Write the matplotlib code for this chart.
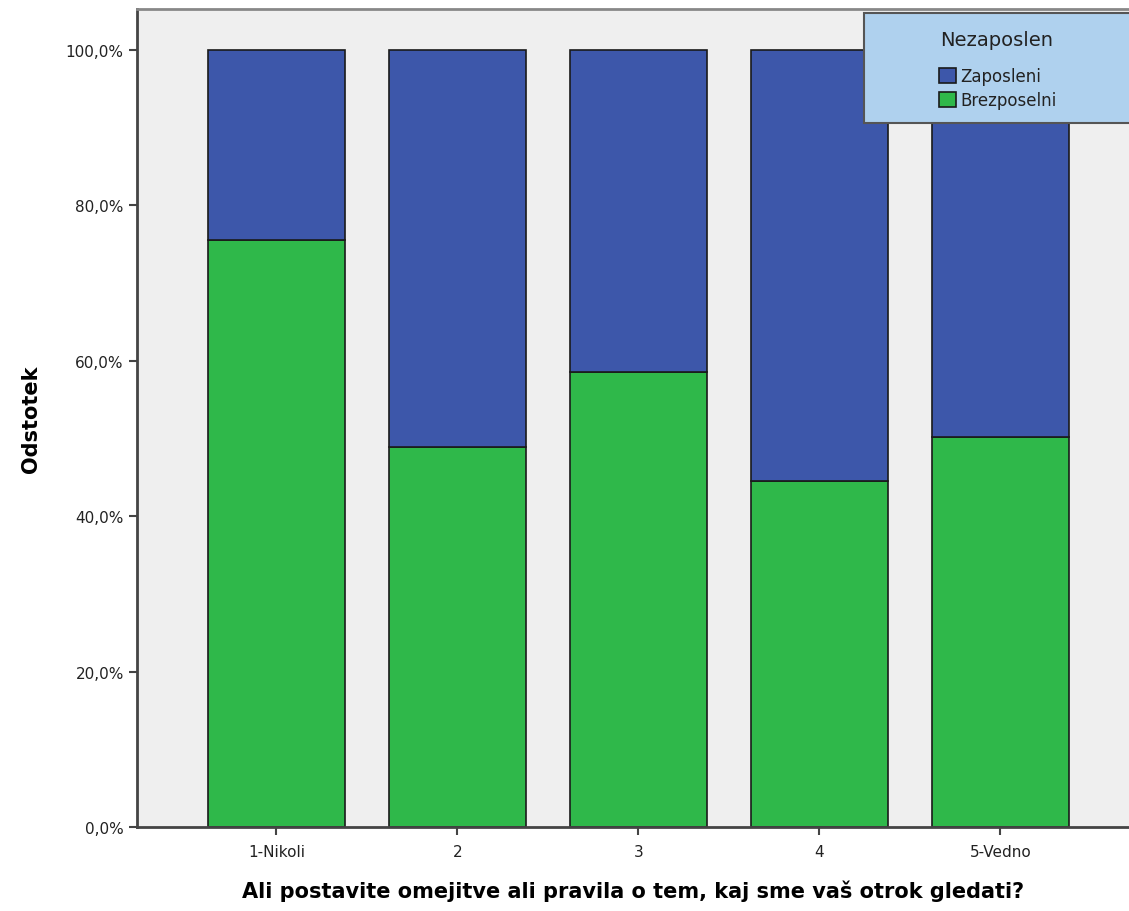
import matplotlib.pyplot as plt
import numpy as np
from matplotlib.ticker import FuncFormatter
from matplotlib.patches import Rectangle

categories = ['1-Nikoli', '2', '3', '4', '5-Vedno']
brezposelni = [75.6, 48.9, 58.6, 44.5, 50.2]
zaposleni = [100 - v for v in brezposelni]

blue = '#3d57aa'
green = '#2fb84a'

W, H = 1129, 912
fig = plt.figure(figsize=(W / 100, H / 100), dpi=100)
ax = fig.add_axes([0.1213, 0.0921, 0.8787, 0.897])
ax.set_facecolor('#efefef')

x = np.arange(len(categories))
ax.bar(x, brezposelni, width=0.76, color=green, edgecolor='#1a1a1a', linewidth=1.2, label='Brezposelni')
ax.bar(x, zaposleni, width=0.76, bottom=brezposelni, color=blue, edgecolor='#1a1a1a', linewidth=1.2, label='Zaposleni')

ax.set_xlim(-0.77, 4.71)
ax.set_ylim(0, 105.3)
ax.set_xticks(x)
ax.set_xticklabels(categories, fontsize=11, color='#222222')
ax.set_yticks(np.arange(0, 101, 20))
ax.yaxis.set_major_formatter(FuncFormatter(lambda v, p: ('%.1f%%' % v).replace('.', ',')))
ax.tick_params(axis='y', labelsize=11, labelcolor='#222222', length=6, width=1.5, color='#444444')
ax.tick_params(axis='x', length=6, width=1.5, color='#444444', pad=6)

for s in ['left', 'bottom']:
    ax.spines[s].set_color('#444444')
    ax.spines[s].set_linewidth(2)
ax.spines['top'].set_color('#888888')
ax.spines['top'].set_linewidth(2)
ax.spines['right'].set_visible(False)

ax.set_ylabel('Odstotek', fontsize=15, fontweight='bold', labelpad=18)
ax.set_xlabel('Ali postavite omejitve ali pravila o tem, kaj sme vaš otrok gledati?', fontsize=15, fontweight='bold', labelpad=15)

# legend box (extends past the right edge like the original)
box = Rectangle((864 / W, 1 - 124 / H), 300 / W, 110 / H, transform=fig.transFigure,
                facecolor='#afd1ee', edgecolor='#555555', linewidth=1.5, zorder=5, clip_on=False)
fig.patches.append(box)
fig.text(997 / W, 1 - 40 / H, 'Nezaposlen', ha='center', va='center', fontsize=14, color='#222222', zorder=6)

h, l = ax.get_legend_handles_labels()
leg = fig.legend(h[::-1], l[::-1], loc='center', bbox_to_anchor=(998 / W, 1 - 89 / H),
                 fontsize=12, frameon=False, handlelength=1.0, handleheight=1.0,
                 handletextpad=0.25, labelspacing=0.35, borderpad=0)
leg.set_zorder(7)
for t in leg.get_texts():
    t.set_color('#222222')

fig.savefig('out.png', dpi=100)
